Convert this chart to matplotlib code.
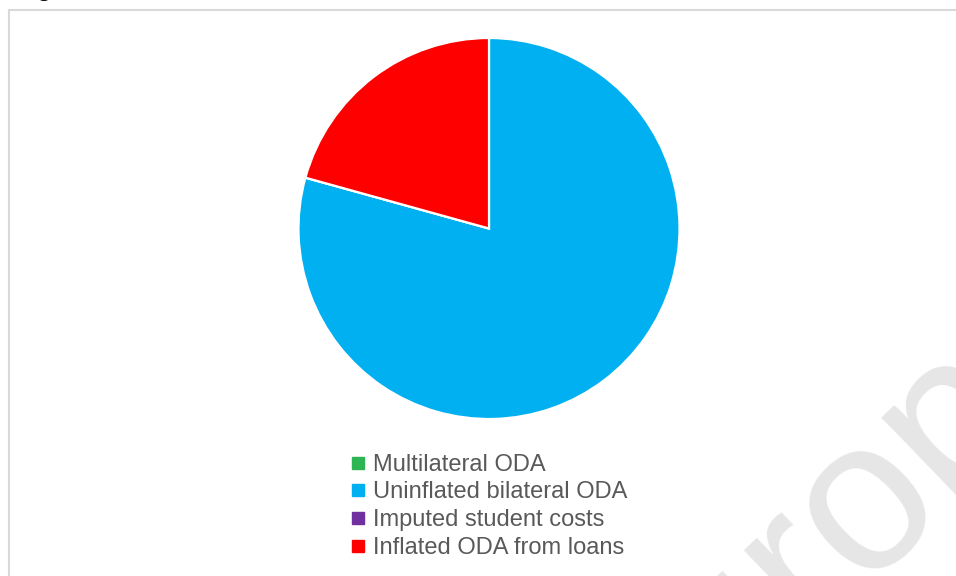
import numpy as np
import matplotlib.pyplot as plt
from matplotlib.lines import Line2D
from matplotlib.patches import Rectangle

plt.rcParams['font.family'] = ['Liberation Sans', 'DejaVu Sans']

# ODA composition (% of total)
categorias = ['Multilateral ODA', 'Uninflated bilateral ODA',
              'Imputed student costs', 'Inflated ODA from loans']
valores = [0.0, 79.3, 0.0, 20.7]
cores = ['#2db553', '#00b0f0', '#7030a0', '#ff0000']

W, H = 956, 576
fig = plt.figure(figsize=(W / 100, H / 100), dpi=100)
fig.patch.set_facecolor('white')

# moldura cinza do gráfico
fig.patches.append(Rectangle((9 / W, -0.1), 1.2, (H - 10) / H + 0.1,
                             transform=fig.transFigure, fill=False,
                             edgecolor='#d9d9d9', linewidth=1.5))

# título cortado no topo
fig.text(16 / W, 1 - (-4) / H, 'Figure', fontsize=17, fontweight='bold',
         color='black', ha='left', va='baseline')

# marca d'água
fig.text(619 / W, 1 - 813 / H, 'European', fontsize=155, color='#e6e6e6',
         rotation=44, rotation_mode='anchor', ha='left', va='baseline',
         zorder=0)

# pizza
cx, cy, r = 489, 228.5, 190.5
ax = fig.add_axes([(cx - r) / W, (H - cy - r) / H, 2 * r / W, 2 * r / H])
ax.pie(valores, colors=cores, startangle=90, counterclock=False,
       wedgeprops=dict(edgecolor='white', linewidth=1.6))
ax.set_xlim(-1, 1)
ax.set_ylim(-1, 1)
ax.set_axis_off()

handles = [Line2D([], [], marker='s', linestyle='none', markersize=8,
                  markerfacecolor=c, markeredgecolor=c) for c in cores]
leg = fig.legend(handles, categorias, loc='upper left',
                 bbox_to_anchor=(340 / W, 1 - 442 / H), frameon=False,
                 fontsize=17, handlelength=0.5, handletextpad=0.4,
                 labelspacing=0.24, borderpad=0)
for t in leg.get_texts():
    t.set_color('#595959')

fig.savefig('out.png', dpi=100, facecolor='white')
